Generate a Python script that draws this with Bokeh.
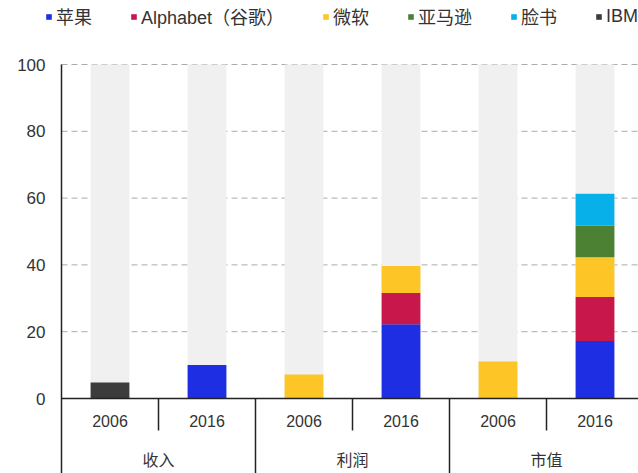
from bokeh.plotting import figure
from bokeh.models import ColumnDataSource, Range1d
from bokeh.core.properties import value
from bokeh.embed import file_html
from bokeh.resources import INLINE

# ---- data ----
groups = ["收入", "利润", "市值"]
years = ["2006", "2016"]
companies = ["苹果", "Alphabet（谷歌）", "微软", "亚马逊", "脸书", "IBM"]
keys = ["apple", "alphabet", "microsoft", "amazon", "facebook", "ibm"]
apple = [0, 10.0, 0, 22.2, 0, 17.2]
alphabet = [0, 0, 0, 9.4, 0, 13.2]
microsoft = [0, 0, 7.2, 8.1, 11.1, 11.9]
amazon = [0, 0, 0, 0, 0, 9.4]
facebook = [0, 0, 0, 0, 0, 9.6]
ibm = [4.8, 0, 0, 0, 0, 0]
full_scale = 100
y_ticks = [0, 20, 40, 60, 80, 100]

colors = ["#1E2EE3", "#C8174B", "#FDC525", "#4C8032", "#08B0EA", "#3C3C3C"]
FONT = "Liberation Sans, Noto Sans CJK SC"
LINE = "#222222"
TXT = "#333333"

W, H = 638, 473
nsub = len(years)
cats = [(g, yr) for g in groups for yr in years]
n = len(cats)
xs = [i + 0.5 for i in range(n)]           # category centres on the scale
gx = [g * nsub + nsub / 2 for g in range(len(groups))]

src = ColumnDataSource(dict(x=xs, apple=apple, alphabet=alphabet, microsoft=microsoft,
                            amazon=amazon, facebook=facebook, ibm=ibm,
                            full=[full_scale] * n))

xpx = 1 / 97.0          # data units per pixel (x)
ypx = 100 / 334.0       # data units per pixel (y)
x0 = -61 * xpx
x1 = x0 + W * xpx
y0 = -(H - 398) * ypx
y1 = 100 + 64 * ypx

p = figure(x_range=Range1d(x0, x1), y_range=Range1d(y0, y1), width=W, height=H,
           output_backend="svg", toolbar_location=None,
           min_border=0)
p.outline_line_color = None
p.axis.visible = False
p.grid.visible = False

# dashed grid lines (behind bars)
gt = y_ticks[1:]
p.segment(x0=[0] * len(gt), y0=gt, x1=[x1] * len(gt), y1=gt,
          line_color="#AAAAAA", line_dash="6 4", line_width=1)

# background (100%) bars
p.vbar(x="x", top="full", width=0.4, source=src, color="#F0F0F0", line_color=None)
# stacked shares
p.vbar_stack(keys, x="x", width=0.4, source=src, color=colors, line_color=None,
             legend_label=companies)

# axis lines and separators
p.segment(x0=[0], y0=[y0], x1=[0], y1=[100], line_color=LINE, line_width=1.5)
p.segment(x0=[0], y0=[0], x1=[x1], y1=[0], line_color=LINE, line_width=1.5)
gb = [i * nsub for i in range(1, len(groups) + 1)]
p.segment(x0=gb, y0=[0] * len(gb), x1=gb, y1=[y0] * len(gb), line_color=LINE, line_width=1.5)
sb = [i * nsub + 1 for i in range(len(groups))]
p.segment(x0=sb, y0=[0] * len(sb), x1=sb, y1=[-32 * ypx] * len(sb), line_color=LINE, line_width=1.5)

# y tick labels
p.text(x=[-16 * xpx] * len(y_ticks), y=y_ticks, text=[str(t) for t in y_ticks],
       text_font=value(FONT), text_font_size="17px", text_color=TXT,
       text_align="right", text_baseline="middle")

# category labels
p.text(x=xs, y=[-22 * ypx] * n, text=[yr for g, yr in cats], text_font=value(FONT),
       text_font_size="16px", text_color=TXT, text_align="center",
       text_baseline="middle")
p.text(x=gx, y=[-62 * ypx] * len(groups), text=groups, text_font=value(FONT),
       text_font_size="16px", text_color=TXT, text_align="center",
       text_baseline="middle")

lg = p.legend[0]
lg.orientation = "horizontal"
lg.location = (45, 444)
lg.padding = 0
lg.margin = 0
lg.spacing = 38
lg.glyph_width = 7
lg.glyph_height = 7
lg.label_standoff = 4
lg.label_height = 20
lg.label_text_font = FONT
lg.label_text_font_size = "18px"
lg.label_text_color = TXT
lg.border_line_color = None
lg.background_fill_alpha = 0

open("out.html", "w").write(file_html(p, INLINE))
